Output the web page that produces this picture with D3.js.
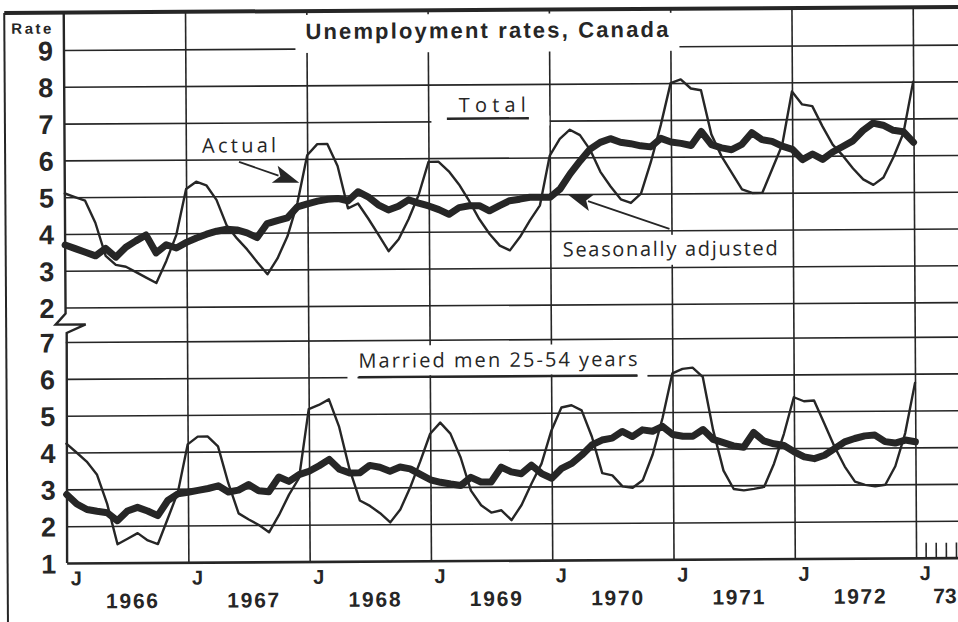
<!DOCTYPE html>
<html><head><meta charset="utf-8">
<script src="https://cdn.jsdelivr.net/npm/d3@7"></script>
<style>html,body{margin:0;padding:0;background:#fff;} svg{display:block}</style>
</head><body><svg id="c" width="958" height="622"></svg>
<script>
// ---------- data (monthly, Jan 1966 .. Jan 1973) ----------
const yearLabels = ["1966","1967","1968","1969","1970","1971","1972"];
const lastYearLabel = "73";
const topTicks = [2,3,4,5,6,7,8,9];
const bottomTicks = [1,2,3,4,5,6,7];
const janMonths = [0,12,24,36,48,60,72,84];
const extraMonths = [85,86,87,88];

const totalActual = [
 5.1,5.0,4.9,4.3,3.4,3.15,3.1,2.95,2.8,2.65,3.25,3.95,
 5.2,5.4,5.3,4.9,4.2,3.85,3.55,3.2,2.87,3.3,3.9,4.8,
 6.1,6.4,6.4,5.8,4.65,4.78,4.37,3.93,3.48,3.8,4.35,5.0,
 5.9,5.9,5.64,5.28,4.83,4.33,3.93,3.61,3.48,3.84,4.29,4.7,
 6.05,6.5,6.75,6.6,6.2,5.6,5.2,4.85,4.75,5.0,5.86,6.86,
 8.0,8.1,7.85,7.8,6.6,6.0,5.55,5.1,5.0,5.0,5.65,6.3,
 7.75,7.4,7.35,6.8,6.3,6.0,5.65,5.35,5.2,5.4,5.95,6.6,
 8.0];
const totalSA = [
 3.7,3.6,3.5,3.4,3.6,3.36,3.63,3.8,3.96,3.47,3.69,3.6,
 3.75,3.87,3.97,4.05,4.1,4.08,4.0,3.87,4.25,4.33,4.4,4.7,
 4.78,4.85,4.9,4.92,4.85,5.1,4.96,4.74,4.6,4.7,4.87,4.78,
 4.7,4.6,4.47,4.65,4.7,4.7,4.56,4.7,4.83,4.87,4.92,4.92,
 4.92,5.14,5.55,5.9,6.22,6.4,6.5,6.4,6.36,6.3,6.27,6.5,
 6.4,6.36,6.3,6.68,6.32,6.23,6.18,6.32,6.64,6.45,6.4,6.27,
 6.18,5.9,6.05,5.9,6.1,6.25,6.4,6.68,6.88,6.82,6.68,6.64,
 6.35];
const menActual = [
 4.24,4.0,3.75,3.4,2.6,1.5,1.65,1.8,1.6,1.5,2.2,2.9,
 4.2,4.41,4.41,4.14,3.14,2.32,2.15,2.0,1.8,2.27,2.82,3.27,
 5.14,5.25,5.4,4.65,3.5,2.65,2.5,2.3,2.05,2.4,3.0,3.7,
 4.45,4.75,4.45,3.8,2.9,2.5,2.3,2.36,2.09,2.5,3.08,3.62,
 4.52,5.14,5.2,5.06,4.34,3.35,3.29,2.99,2.95,3.15,3.85,4.84,
 6.05,6.17,6.2,5.95,4.5,3.4,2.9,2.86,2.9,2.95,3.58,4.39,
 5.38,5.27,5.29,4.66,4.03,3.49,3.08,2.99,2.95,2.99,3.49,4.39,
 5.75];
const menSA = [
 2.86,2.6,2.45,2.4,2.36,2.14,2.4,2.5,2.4,2.27,2.68,2.86,
 2.9,2.95,3.0,3.07,2.9,2.95,3.1,2.93,2.9,3.3,3.18,3.36,
 3.45,3.6,3.77,3.5,3.4,3.4,3.6,3.55,3.44,3.55,3.5,3.35,
 3.2,3.13,3.08,3.04,3.26,3.13,3.13,3.53,3.4,3.35,3.58,3.35,
 3.22,3.49,3.62,3.85,4.12,4.25,4.3,4.48,4.34,4.52,4.48,4.61,
 4.39,4.34,4.34,4.52,4.25,4.16,4.07,4.03,4.43,4.2,4.12,4.07,
 3.9,3.76,3.71,3.8,3.98,4.16,4.25,4.32,4.34,4.16,4.12,4.2,
 4.15];

// ---------- layout ----------
const INK = "#262626";
const X0 = 65.5, XR = 968, TOPB = 10;
const x = d3.scaleLinear().domain([0,84]).range([65.5,914.5]);
const yTop = d3.scaleLinear().domain([2,9]).range([305,47.5]);
const yBot = d3.scaleLinear().domain([1,7]).range([560.5,339.5]);
const BOLD = "'Liberation Sans', Arial, sans-serif";
const LIGHT = "'Open Sans', Lato, sans-serif";

const svg = d3.select("#c");
svg.append("rect").attr("width",958).attr("height",622).attr("fill","#fff");
const root = svg.append("g").attr("transform","rotate(-0.35,480,300)");

// outer frame
root.append("line").attr("x1",6).attr("x2",XR).attr("y1",TOPB).attr("y2",TOPB)
  .attr("stroke",INK).attr("stroke-width",4);
root.append("line").attr("x1",6).attr("x2",6).attr("y1",TOPB).attr("y2",640)
  .attr("stroke",INK).attr("stroke-width",2);

// horizontal gridlines + value labels
function styleY(g){
  g.select(".domain").remove();
  g.selectAll(".tick line").attr("stroke",INK).attr("stroke-width",1.6);
  g.selectAll(".tick text").attr("font-family",BOLD).attr("font-weight","bold")
    .attr("font-size",27).attr("fill",INK).attr("dy","0.36em");
}
const gTop = root.append("g").attr("transform",`translate(${X0},0)`)
  .call(d3.axisLeft(yTop).tickValues(topTicks).tickSize(-(XR-X0)).tickPadding(11).tickFormat(d3.format("d")));
styleY(gTop);
const gBot = root.append("g").attr("transform",`translate(${X0},0)`)
  .call(d3.axisLeft(yBot).tickValues(bottomTicks).tickSize(-(XR-X0)).tickPadding(11).tickFormat(d3.format("d")));
styleY(gBot);
gBot.selectAll(".tick line").filter(d=>d===1).attr("stroke-width",2.6);

// vertical gridlines (January) + "J" labels
const gX = root.append("g").attr("transform",`translate(0,${yBot(1)})`)
  .call(d3.axisBottom(x).tickValues(janMonths).tickSize(-(yBot(1)-TOPB)).tickPadding(8).tickFormat(()=>"J"));
gX.select(".domain").remove();
gX.selectAll(".tick line").attr("stroke",INK).attr("stroke-width",1.6);
gX.selectAll(".tick line").filter(d=>d===0).remove();
gX.selectAll(".tick text").attr("font-family",BOLD).attr("font-weight","bold").attr("font-size",20)
  .attr("fill",INK).attr("text-anchor","start").attr("dx",3);

// left axis with scale break
root.append("path")
  .attr("d",`M${X0},${TOPB} L${X0},${yTop(2)+6} L${X0-10},${yTop(2)+17} L${X0+20},${yTop(2)+17} L${X0+1},${yBot(7)-9} L${X0},${yBot(1)}`)
  .attr("fill","none").attr("stroke",INK).attr("stroke-width",2.4).attr("stroke-linejoin","miter");

// minor month ticks after Jan 1973
root.append("g").selectAll("line").data(extraMonths).join("line")
  .attr("x1",d=>x(d)).attr("x2",d=>x(d)).attr("y1",yBot(1)-15).attr("y2",yBot(1))
  .attr("stroke",INK).attr("stroke-width",1.6);

// white masks where the original grid is interrupted by lettering
const masks = [
  [297,14,384,38],   // title
  [432.5,116,118,10], // Total
  [558,236,226,30],  // Seasonally adjusted
  [352,345,290,30],  // Married men
  [347,373,10,8],[637,373,10,8]
];
root.append("g").selectAll("rect").data(masks).join("rect")
  .attr("x",d=>d[0]).attr("y",d=>d[1]).attr("width",d=>d[2]).attr("height",d=>d[3]).attr("fill","#fff");

// year labels
root.append("g").selectAll("text").data(yearLabels).join("text")
  .attr("x",(d,i)=>x(12*i+6)+4).attr("y",606).attr("text-anchor","middle")
  .attr("font-family",BOLD).attr("font-weight","bold").attr("font-size",21).attr("fill",INK)
  .attr("textLength",52).attr("lengthAdjust","spacing").text(d=>d);
root.append("text").attr("x",x(84)+17).attr("y",606)
  .attr("font-family",BOLD).attr("font-weight","bold").attr("font-size",21).attr("fill",INK).text(lastYearLabel);

// title, axis title
root.append("text").attr("x",307).attr("y",38).attr("font-family",BOLD).attr("font-weight","bold")
  .attr("font-size",22).attr("fill",INK).attr("textLength",363).attr("lengthAdjust","spacing")
  .text("Unemployment rates, Canada");
root.append("text").attr("x",13).attr("y",31).attr("font-family",BOLD).attr("font-weight","bold")
  .attr("font-size",15).attr("fill",INK).attr("textLength",40).attr("lengthAdjust","spacing").text("Rate");

// panel labels
function label(t,x0,y0,len){
  root.append("text").attr("x",x0).attr("y",y0).attr("font-family",LIGHT).attr("font-size",20)
    .attr("fill",INK).attr("textLength",len).attr("lengthAdjust","spacing").text(t);
}
label("Total",460,112,67);
root.append("line").attr("x1",448).attr("x2",530).attr("y1",118.5).attr("y2",118.5).attr("stroke",INK).attr("stroke-width",2.4);
label("Actual",203,151,74);
label("Seasonally adjusted",563,257,215);
label("Married men 25-54 years",358,367,279);
root.append("line").attr("x1",358).attr("x2",637).attr("y1",yBot(6)).attr("y2",yBot(6)).attr("stroke",INK).attr("stroke-width",2.4);

// arrows
function arrow(p0,p1){
  const dx=p1[0]-p0[0], dy=p1[1]-p0[1], L=Math.hypot(dx,dy), ux=dx/L, uy=dy/L;
  const hl=26, hw=9;
  const bx=p1[0]-ux*hl, by=p1[1]-uy*hl;
  root.append("line").attr("x1",p0[0]).attr("y1",p0[1]).attr("x2",bx+ux*4).attr("y2",by+uy*4)
    .attr("stroke",INK).attr("stroke-width",1.8);
  root.append("path").attr("d",`M${p1[0]},${p1[1]} L${bx-uy*hw},${by+ux*hw} L${bx+ux*6},${by+uy*6} L${bx+uy*hw},${by-ux*hw} Z`)
    .attr("fill",INK);
}
arrow([x(17.25),yTop(5.93)],[x(23.2),yTop(5.35)]);
arrow([x(59.8),yTop(4.04)],[x(49.7),yTop(5.0)]);

// data lines
const months = d3.range(totalActual.length);
function series(vals,ys,w){
  root.append("path").datum(vals)
    .attr("d",d3.line().x((d,i)=>x(months[i])).y(d=>ys(d)))
    .attr("fill","none").attr("stroke",INK).attr("stroke-width",w)
    .attr("stroke-linejoin","round").attr("stroke-linecap","round");
}
series(totalSA,yTop,7);
series(menSA,yBot,7);
series(totalActual,yTop,2.4);
series(menActual,yBot,2.4);
</script></body></html>
